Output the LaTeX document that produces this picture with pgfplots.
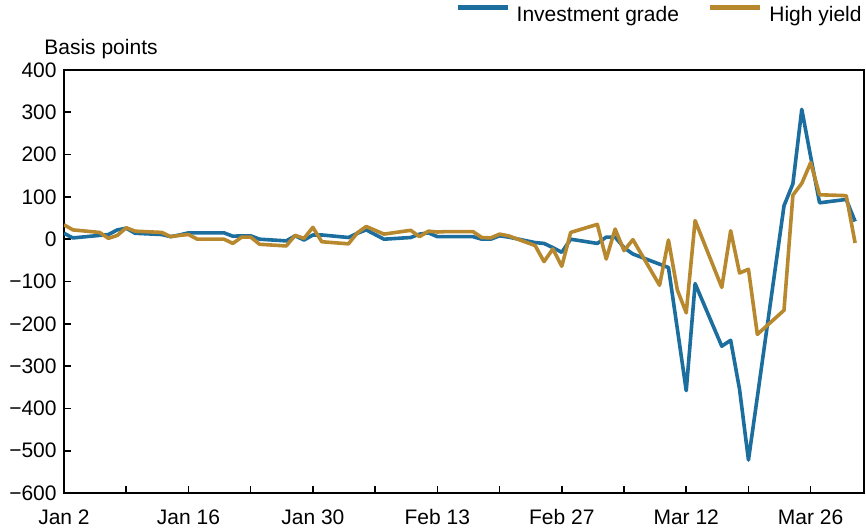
\documentclass[border=0pt]{standalone}
\usepackage{fontspec}
\setmainfont{Liberation Sans}
\usepackage{pgfplots}
\pgfplotsset{compat=1.18}
\definecolor{igblue}{RGB}{28,110,158}
\definecolor{hygold}{RGB}{184,136,46}
\begin{document}
\fontsize{10.5}{12.6}\selectfont
\begin{tikzpicture}
\path[use as bounding box] (-32pt,-18.5pt) rectangle (401pt,246.5pt);
\begin{axis}[
  at={(0pt,0pt)}, anchor=south west,
  scale only axis, width=400pt, height=211.5pt,
  xmin=0, xmax=90, ymin=-600, ymax=400,
  xtick={0,14,...,84},
  xticklabels={Jan 2,Jan 16,Jan 30,Feb 13,Feb 27,Mar 12,Mar 26},
  minor xtick={7,21,...,77},
  ytick={-600,-500,...,400},
  yticklabels={−600,−500,−400,−300,−200,−100,0,100,200,300,400},
  xtick pos=bottom, ytick pos=left,
  tick align=inside,
  major tick length=3.5pt, minor tick length=3.5pt,
  tick style={black, line width=0.8pt},
  axis line style={line width=1pt},
  xticklabel style={yshift=-4.5pt},
  ylabel={Basis points},
  every axis y label/.style={at={(rel axis cs:0,1)}, anchor=base west, xshift=-13.5pt, yshift=7.5pt},
  legend style={draw=none, fill=none, at={(rel axis cs:1,1)}, anchor=east, xshift=-1pt, yshift=27.5pt,
    legend columns=-1, inner sep=0pt, nodes={inner sep=0pt},
    /tikz/every odd column/.append style={column sep=3.5pt},
    /tikz/every even column/.append style={column sep=14.5pt}},
  legend image code/.code={\draw[line width=2.2pt] (0pt,3.8pt) -- (25pt,3.8pt);},
]
\addplot[igblue, line width=1.8pt, line join=round] coordinates {
(0,14) (1,3) (4,9) (5,11) (6,22) (7,26) (8,14) (11,11) (12,6) (13,10) (14,15) (15,15)
(18,15) (19,7) (20,8) (21,8) (22,0) (25,-4) (26,8) (27,-2) (28,10) (29,10)
(32,4) (33,14) (34,22) (35,11) (36,0) (39,4) (40,12) (41,15) (42,6) (43,6)
(46,6) (47,0) (48,0) (49,8) (50,5) (53,-8) (54,-10) (55,-20) (56,-31) (57,0)
(60,-10) (61,5) (62,5) (63,-20) (64,-35) (67,-59) (68,-67) (69,-212) (70,-358) (71,-105)
(74,-253) (75,-239) (76,-355) (77,-522) (78,-373) (81,79) (82,131) (83,307) (84,195) (85,86)
(88,94) (89,42)
};
\addlegendentry{Investment grade}
\addplot[hygold, line width=1.8pt, line join=round] coordinates {
(0,34) (1,22) (4,16) (5,2) (6,9) (7,27) (8,19) (11,16) (12,6) (13,9) (14,11) (15,0)
(18,0) (19,-10) (20,5) (21,5) (22,-12) (25,-16) (26,9) (27,2) (28,28) (29,-6)
(32,-11) (33,15) (34,30) (35,21) (36,12) (39,21) (40,6) (41,19) (42,17) (43,18)
(46,18) (47,4) (48,3) (49,12) (50,8) (53,-15) (54,-53) (55,-23) (56,-64) (57,16)
(60,35) (61,-47) (62,24) (63,-27) (64,-1) (67,-109) (68,-2) (69,-120) (70,-174) (71,44)
(74,-114) (75,20) (76,-80) (77,-71) (78,-225) (81,-168) (82,104) (83,132) (84,181) (85,105)
(88,103) (89,-9)
};
\addlegendentry{High yield}
\end{axis}
\end{tikzpicture}
\end{document}
